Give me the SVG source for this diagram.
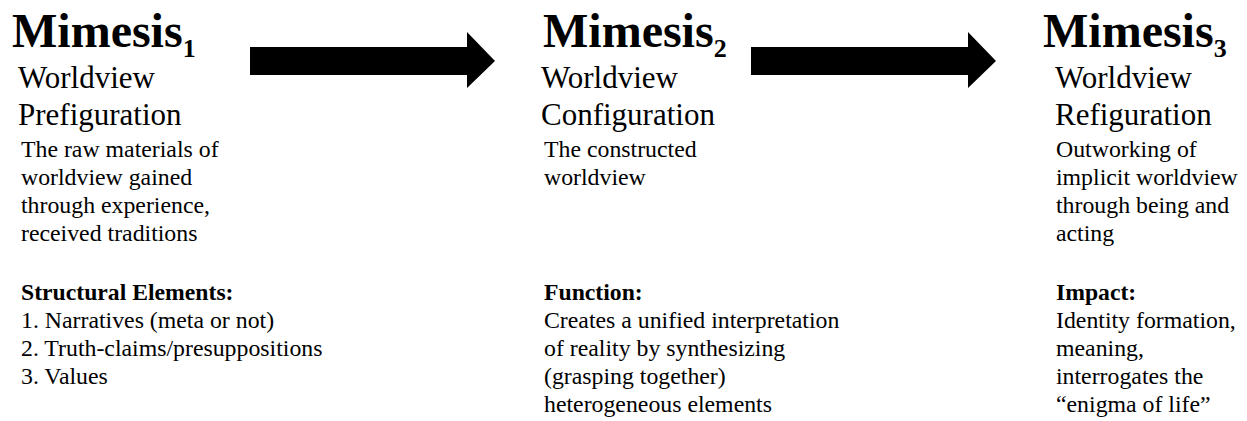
<svg xmlns="http://www.w3.org/2000/svg" width="1247" height="421" viewBox="0 0 1247 421">
<style>
text{font-family:"Liberation Serif","Times New Roman",serif;fill:#000}
.t{font-size:48px;font-weight:bold}
.sub{font-size:26px;font-weight:bold}
.h{font-size:31px}
.b{font-size:23.8px}
.bb{font-size:23.7px;font-weight:bold}
</style>
<defs>
<path id="arrow" d="M0,47 H217 V32 L245,61 L217,88 V75 H0 Z" fill="#000"/>
</defs>
<rect width="1247" height="421" fill="#fff"/>
<g id="connectors">
<use href="#arrow" x="250"/>
<use href="#arrow" x="751"/>
</g>
<g id="mimesis1">
<text class="t" x="12" y="47">Mimesis<tspan class="sub" dy="10">1</tspan></text>
<text class="h" x="18" y="88">Worldview</text>
<text class="h" x="18" y="125">Prefiguration</text>
<text class="b" x="21" y="157">The raw materials of</text>
<text class="b" x="21" y="185">worldview gained</text>
<text class="b" x="21" y="213">through experience,</text>
<text class="b" x="21" y="241">received traditions</text>
<text class="bb" x="21" y="300">Structural Elements:</text>
<text class="b" x="21" y="328">1. Narratives (meta or not)</text>
<text class="b" x="21" y="356">2. Truth-claims/presuppositions</text>
<text class="b" x="21" y="384">3. Values</text>
</g>
<g id="mimesis2">
<text class="t" x="543" y="47">Mimesis<tspan class="sub" dy="10">2</tspan></text>
<text class="h" x="541" y="88">Worldview</text>
<text class="h" x="541" y="125">Configuration</text>
<text class="b" x="544" y="157">The constructed</text>
<text class="b" x="544" y="185">worldview</text>
<text class="bb" x="544" y="300">Function:</text>
<text class="b" x="544" y="328">Creates a unified interpretation</text>
<text class="b" x="544" y="356">of reality by synthesizing</text>
<text class="b" x="544" y="384">(grasping together)</text>
<text class="b" x="544" y="412">heterogeneous elements</text>
</g>
<g id="mimesis3">
<text class="t" x="1043" y="47">Mimesis<tspan class="sub" dy="10">3</tspan></text>
<text class="h" x="1055" y="88">Worldview</text>
<text class="h" x="1055" y="125">Refiguration</text>
<text class="b" x="1056" y="157">Outworking of</text>
<text class="b" x="1056" y="185">implicit worldview</text>
<text class="b" x="1056" y="213">through being and</text>
<text class="b" x="1056" y="241">acting</text>
<text class="bb" x="1056" y="300">Impact:</text>
<text class="b" x="1056" y="328">Identity formation,</text>
<text class="b" x="1056" y="356">meaning,</text>
<text class="b" x="1056" y="384">interrogates the</text>
<text class="b" x="1056" y="412">“enigma of life”</text>
</g>
</svg>
